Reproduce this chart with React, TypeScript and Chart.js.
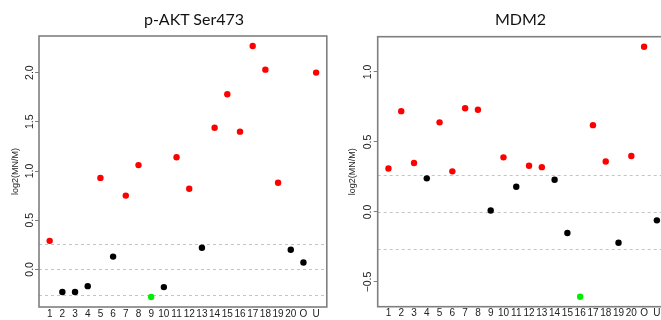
import React, { useEffect, useRef } from "react";
import { Chart, registerables } from "chart.js";

Chart.register(...registerables);

// Sample labels along the x axis (20 numbered samples plus O and U)
const categories = [
  "1", "2", "3", "4", "5", "6", "7", "8", "9", "10",
  "11", "12", "13", "14", "15", "16", "17", "18", "19", "20", "O", "U",
];

// log2(MN/M) per sample
const aktValues = [
  0.29, -0.23, -0.23, -0.17, 0.93, 0.13, 0.75, 1.06, -0.28, -0.18,
  1.14, 0.82, 0.22, 1.44, 1.78, 1.4, 2.27, 2.03, 0.88, 0.2, 0.07, 2.0,
];
const mdm2Values = [
  0.31, 0.72, 0.35, 0.24, 0.64, 0.29, 0.74, 0.73, 0.01, 0.39,
  0.18, 0.33, 0.32, 0.23, -0.15, -0.605, 0.62, 0.36, -0.22, 0.4, 1.18, -0.06,
];

const aktTicks = [0, 0.5, 1, 1.5, 2];
const mdm2Ticks = [-0.5, 0, 0.5, 1];

// +/- log2(1.2) cut-offs and the zero line
const cutoffs = [-0.263, 0, 0.263];

const UP = "#ff0000";
const DOWN = "#00ee00";
const FLAT = "#000000";

const pointColour = (v: number) => (v > cutoffs[2] ? UP : v < cutoffs[0] ? DOWN : FLAT);

// R-style 4% padding around the data range
const padRange = (lo: number, hi: number) => {
  const d = (hi - lo) * 0.04;
  return [lo - d, hi + d];
};

const fmtTick = (v: number) => (v < 0 ? "\u2212" + Math.abs(v).toFixed(1) : v.toFixed(1));

const framePlugin = {
  id: "frame",
  beforeDatasetsDraw(chart: any) {
    const { ctx, chartArea: a, scales } = chart;
    const y = scales.y;
    ctx.save();
    ctx.setLineDash([3, 3]);
    ctx.strokeStyle = "#c4c4c4";
    ctx.lineWidth = 1;
    for (const v of cutoffs) {
      const py = Math.round(y.getPixelForValue(v)) + 0.5;
      ctx.beginPath();
      ctx.moveTo(a.left, py);
      ctx.lineTo(a.right, py);
      ctx.stroke();
    }
    ctx.setLineDash([]);
    ctx.strokeStyle = "#7f7f7f";
    ctx.lineWidth = 1.6;
    ctx.strokeRect(a.left, a.top, a.right - a.left, a.bottom - a.top);
    ctx.restore();
  },
};

type PanelProps = {
  values: number[];
  ticks: number[];
  width: number;
  height: number;
  area: { left: number; top: number; right: number; bottom: number };
  titlePad: number;
  tickPad: number;
};

function Panel({ values, ticks, width, height, area, titlePad, tickPad }: PanelProps) {
  const ref = useRef<HTMLCanvasElement | null>(null);

  useEffect(() => {
    if (!ref.current) return;
    const n = categories.length;
    const [xMin, xMax] = padRange(1, n);
    const [yMin, yMax] = padRange(Math.min(...values), Math.max(...values));
    const sans = "'Liberation Sans', Arial, sans-serif";

    const chart = new Chart(ref.current, {
      type: "scatter",
      data: {
        datasets: [
          {
            data: values.map((v, i) => ({ x: i + 1, y: v })),
            pointRadius: 3.2,
            pointHoverRadius: 3.2,
            pointBorderWidth: 0,
            pointBackgroundColor: values.map(pointColour),
            showLine: false,
          },
        ],
      },
      options: {
        animation: false,
        responsive: false,
        devicePixelRatio: 1,
        layout: { padding: { top: area.top, right: width - area.right, left: 0, bottom: 0 } },
        plugins: { legend: { display: false }, tooltip: { enabled: false } },
        scales: {
          x: {
            type: "linear",
            min: xMin,
            max: xMax,
            afterBuildTicks: (s: any) => {
              s.ticks = categories.map((_, i) => ({ value: i + 1 }));
            },
            afterFit: (s: any) => {
              s.height = height - area.bottom;
            },
            grid: { display: false, drawTicks: false, tickLength: 0 },
            border: { display: false },
            ticks: {
              autoSkip: false,
              maxRotation: 0,
              minRotation: 0,
              padding: 1,
              color: "#222",
              font: { family: sans, size: 10 },
              callback: (v: any) => categories[Number(v) - 1] ?? "",
            },
          },
          y: {
            type: "linear",
            min: yMin,
            max: yMax,
            afterBuildTicks: (s: any) => {
              s.ticks = ticks.map((t) => ({ value: t }));
            },
            afterFit: (s: any) => {
              s.width = area.left;
            },
            grid: {
              display: true,
              drawOnChartArea: false,
              drawTicks: true,
              tickLength: 4,
              color: "#7f7f7f",
              lineWidth: 1,
            },
            border: { display: false },
            title: {
              display: true,
              text: "log2(MN/M)",
              color: "#222",
              font: { family: sans, size: 9 },
              padding: { top: titlePad, bottom: 0 },
            },
            ticks: {
              minRotation: 90,
              maxRotation: 90,
              crossAlign: "center",
              padding: tickPad,
              color: "#222",
              font: { family: sans, size: 10.5 },
              callback: (v: any) => fmtTick(Number(v)),
            },
          },
        },
      },
      plugins: [framePlugin],
    } as any);

    return () => chart.destroy();
  }, [values, ticks, width, height, area, titlePad, tickPad]);

  return <canvas ref={ref} width={width} height={height} style={{ width, height, display: "block" }} />;
}

const titleStyle: React.CSSProperties = {
  position: "absolute",
  top: 9,
  width: 200,
  textAlign: "center",
  fontFamily: "Lato, 'Open Sans', sans-serif",
  fontSize: 16,
  lineHeight: "20px",
  color: "#111",
  whiteSpace: "nowrap",
};

const aktArea = { left: 39, top: 36, right: 329, bottom: 307 };
const mdm2Area = { left: 47.7, top: 36.7, right: 337.6, bottom: 306.7 };

export default function App() {
  return (
    <div
      style={{
        position: "fixed",
        left: 0,
        top: 0,
        width: 661,
        height: 320,
        overflow: "hidden",
        background: "#fff",
      }}
    >
      <div style={{ position: "absolute", left: 0, top: 0 }}>
        <Panel values={aktValues} ticks={aktTicks} width={330} height={320} area={aktArea} titlePad={10.6} tickPad={-2} />
      </div>
      <div style={{ position: "absolute", left: 330, top: 0 }}>
        <Panel values={mdm2Values} ticks={mdm2Ticks} width={345} height={320} area={mdm2Area} titlePad={17.6} tickPad={-4.5} />
      </div>
      <div style={{ ...titleStyle, left: 94 }}>p-AKT Ser473</div>
      <div style={{ ...titleStyle, left: 420.5 }}>MDM2</div>
    </div>
  );
}
